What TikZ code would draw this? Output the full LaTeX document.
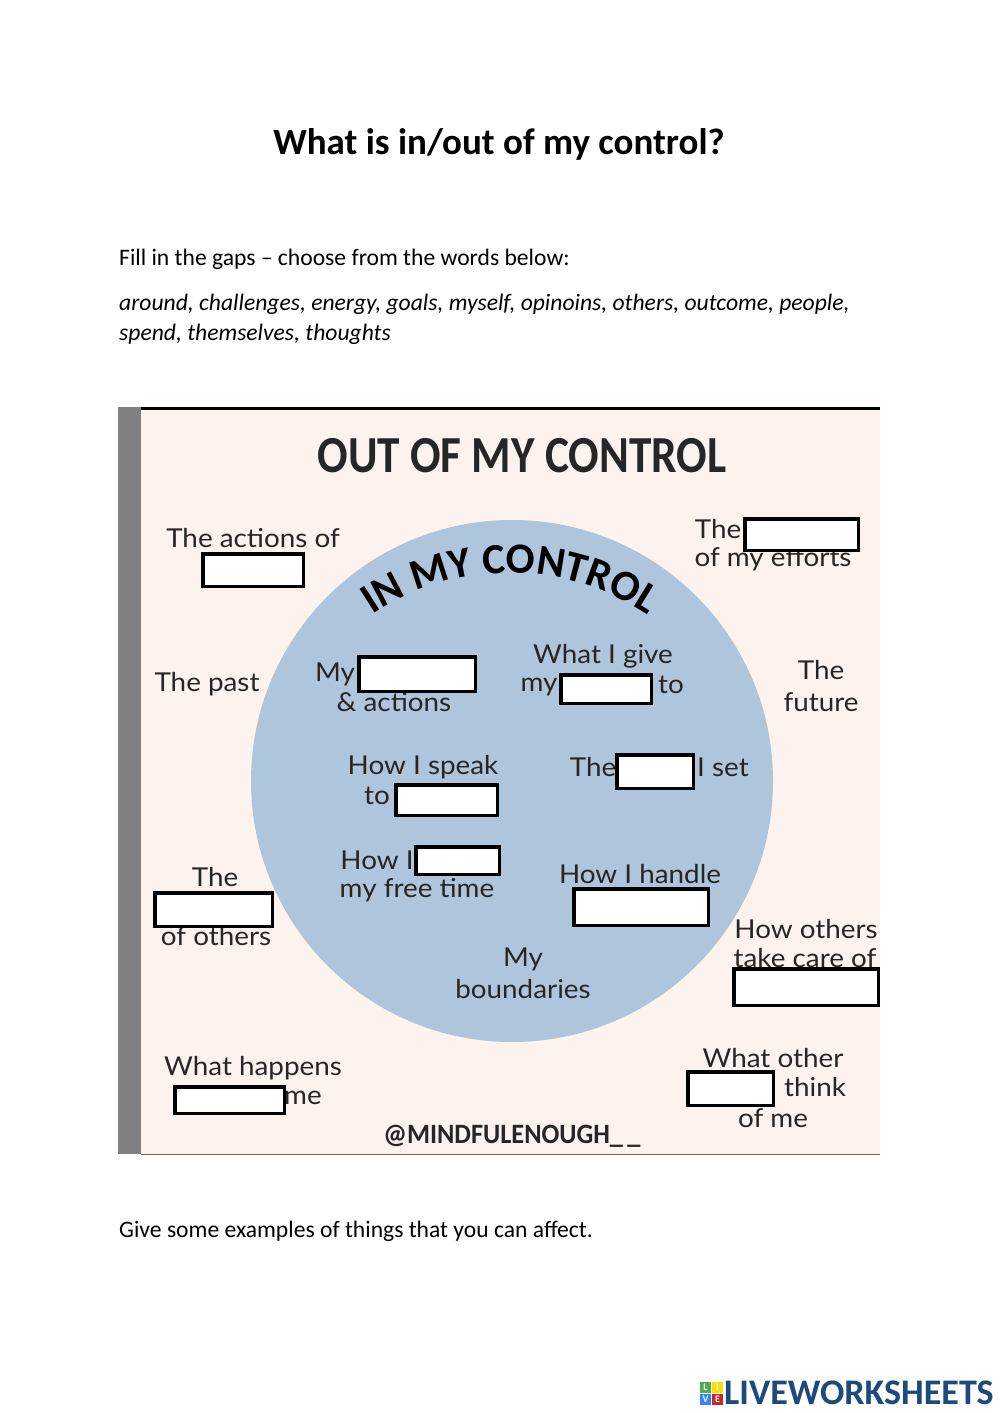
\documentclass[tikz,border=0pt]{standalone}
\usepackage{fontspec}
\setmainfont{Carlito}
\newfontfamily\handfont{Lato}
\usetikzlibrary{decorations.text}
\definecolor{paper}{HTML}{FCF3EE}
\definecolor{disc}{HTML}{AFC5DB}
\definecolor{strip}{HTML}{808080}
\definecolor{logoblue}{HTML}{1B4A7C}
\tikzset{
	hand/.style={font=\handfont\fontsize{26}{32}\selectfont,align=center,inner sep=0pt,text=black!85,xscale=1.07},
	gap/.style={draw=black,line width=3.5pt,fill=white,inner sep=0pt},
	body/.style={font=\fontsize{23.6}{28}\selectfont,anchor=base west,inner sep=0pt},
	slanted/.style={body,font=\itshape\fontsize{23.6}{28}\selectfont},
	tile/.style={minimum size=11pt,inner sep=0pt,text=white,font=\bfseries\fontsize{10}{10}\selectfont}
}
\begin{document}
\begin{tikzpicture}[x=1pt,y=-1pt]
\useasboundingbox (0,0) rectangle (1000,1413);
\fill[white] (0,0) rectangle (1000,1413);

%Text above
\node[font=\bfseries\fontsize{37}{40}\selectfont,inner sep=0pt] (title) at (499,144) {What is in/out of my control?};
\node[body] (intro) at (119,265) {Fill in the gaps -- choose from the words below:};
\node[slanted] (words) at (119,310) {around, challenges, energy, goals, myself, opinoins, others, outcome, people,};
\node[slanted] (wordstwo) at (119,340) {spend, themselves, thoughts};

%Poster
\fill[paper] (141,407) rectangle (880,1154);
\fill[strip] (118,407) rectangle (141,1154);
\draw[black,line width=2.5pt] (141,408.5)--(880,408.5);
\draw[black!60,line width=1pt] (141,1154)--(880,1154);
\fill[disc] (512,781) circle (261);
\node[inner sep=0pt,font=\bfseries\fontsize{52}{56}\selectfont,text=black!85,xscale=0.87] (out) at (522,456) {OUT OF MY CONTROL};
\path[decorate,decoration={text along path,text align=center,
	text={|\bfseries\fontsize{43}{50}\selectfont|IN MY CONTROL}}]
	(510,821)++(-150:248) arc[start angle=-150,end angle=-30,radius=248];

%Outside
\node[hand] (actions) at (253,538) {The actions of};
\node[hand] (past) at (207,684) {The past};
\node[hand] (future) at (821,686) {The\\future};
\node[hand] (effortA) at (718,529) {The};
\node[hand] (effortB) at (773,559) {of my efforts};
\node[hand] (othersA) at (215,877) {The};
\node[hand] (othersB) at (216,936) {of others};
\node[hand] (careA) at (806,929) {How others};
\node[hand] (careB) at (805,958) {take care of};
\node[hand] (happensA) at (253,1068) {What happens};
\node[hand] (happensB) at (303,1098) {me};
\node[hand] (thinkA) at (773,1058) {What other};
\node[hand] (thinkB) at (815,1087) {think};
\node[hand] (thinkC) at (773,1118) {of me};

%Inside
\node[hand] (myA) at (335,674) {My};
\node[hand] (myB) at (394,702) {\& actions};
\node[hand] (giveA) at (603,656) {What I give};
\node[hand] (giveB) at (539,687) {my};
\node[hand] (giveC) at (671,685) {to};
\node[hand] (speakA) at (423,767) {How I speak};
\node[hand] (speakB) at (377,796) {to};
\node[hand] (goalA) at (593,767) {The};
\node[hand] (goalB) at (723,767) {I set};
\node[hand] (freeA) at (377,860) {How I};
\node[hand] (freeB) at (417,890) {my free time};
\node[hand] (handleA) at (640,874) {How I handle};
\node[hand] (bound) at (523,973) {My\\boundaries};

%Gaps
\node[gap,minimum width=100.5pt,minimum height=32.5pt] (gapothers) at (253,570) {};
\node[gap,minimum width=116.5pt,minimum height=34.5pt] (gapthoughts) at (417,674) {};
\node[gap,minimum width=113.5pt,minimum height=31.5pt] (gapoutcome) at (801.5,534.5) {};
\node[gap,minimum width=90.5pt,minimum height=28.5pt] (gapenergy) at (606,689) {};
\node[gap,minimum width=76.5pt,minimum height=33.5pt] (gapgoals) at (655,771.5) {};
\node[gap,minimum width=101.5pt,minimum height=30.5pt] (gapmyself) at (446.5,800) {};
\node[gap,minimum width=83.5pt,minimum height=27.5pt] (gapspend) at (457.5,860.5) {};
\node[gap,minimum width=134.5pt,minimum height=36.5pt] (gapchallenges) at (641,907) {};
\node[gap,minimum width=117.5pt,minimum height=33.5pt] (gapopinions) at (213.5,909.5) {};
\node[gap,minimum width=144.5pt,minimum height=36.5pt] (gapthemselves) at (806,987) {};
\node[gap,minimum width=85.5pt,minimum height=33.5pt] (gappeople) at (730.5,1088.5) {};
\node[gap,minimum width=109.5pt,minimum height=26.5pt] (gaparound) at (229.5,1100) {};

\node[inner sep=0pt,font=\bfseries\fontsize{28}{30}\selectfont,text=black!85,xscale=0.94] (credit) at (512,1136) {@MINDFULENOUGH\_\,\_};

%Below
\node[body] (examples) at (119,1237) {Give some examples of things that you can affect.};

%Logo
\node[tile,fill=green!55!black!70] (tileL) at (705.5,1387) {L};
\node[tile,fill=yellow!80!orange] (tileI) at (717.5,1387) {I};
\node[tile,fill=blue!60!cyan!80] (tileV) at (705.5,1399) {V};
\node[tile,fill=red!75!black!85] (tileE) at (717.5,1399) {E};
\node[inner sep=0pt,anchor=base west,font=\bfseries\fontsize{36}{38}\selectfont,text=logoblue] (logo) at (724,1404) {LIVEWORKSHEETS};
\end{tikzpicture}
\end{document}
